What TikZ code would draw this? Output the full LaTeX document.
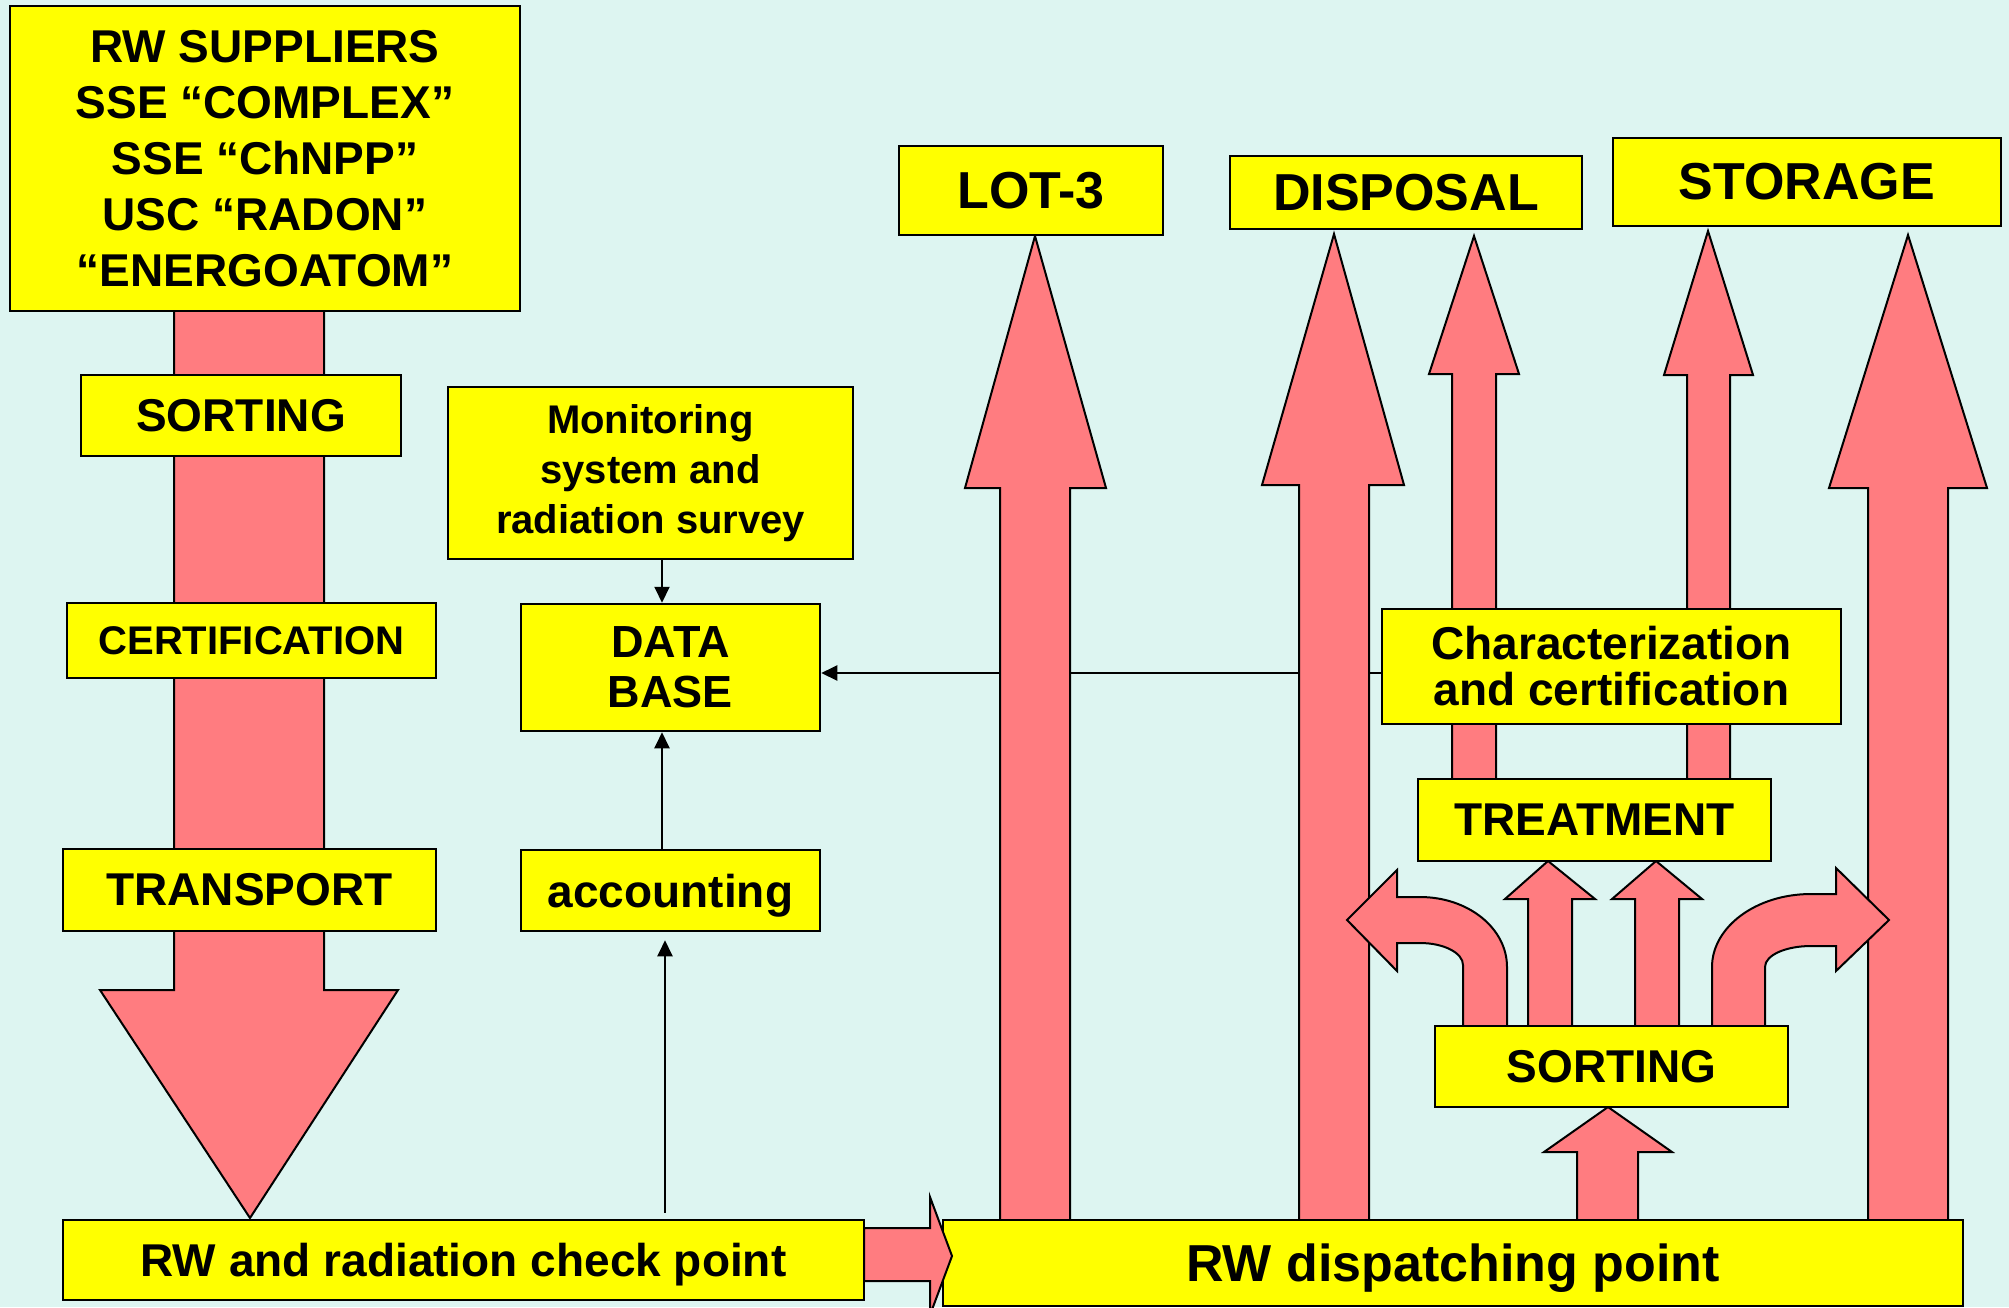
\documentclass[tikz,border=0pt]{standalone}
\usepackage{fontspec}
\setmainfont{Liberation Sans}
\usetikzlibrary{arrows.meta,backgrounds}
\definecolor{bgcyan}{RGB}{221,245,241}
\definecolor{rwpink}{RGB}{255,124,128}
\definecolor{rwyellow}{RGB}{255,255,0}
\tikzset{
  box/.style={draw, line width=2.5pt, fill=rwyellow, inner sep=0pt, align=center, font=\bfseries\fontsize{46}{56}\selectfont},
  bigtext/.style={font=\bfseries\fontsize{52}{60}\selectfont},
  smalltext/.style={font=\bfseries\fontsize{40}{50}\selectfont},
  flow/.style={draw=black, fill=rwpink, line width=2pt},
  link/.style={draw=black, line width=2pt, -{Triangle[length=16pt,width=15pt]}}
}
\begin{document}
\begin{tikzpicture}[x=1pt, y=-1pt]
    \useasboundingbox (0,0) rectangle (2009,1307);
    \node (SUP) [box, minimum width=510pt, minimum height=305pt] at (265,158.5) {RW SUPPLIERS\\SSE “COMPLEX”\\SSE “ChNPP”\\USC “RADON”\\“ENERGOATOM”};
    \node (SORT) [box, minimum width=320pt, minimum height=81pt] at (241,415.5) {SORTING};
    \node (CERT) [box, smalltext, minimum width=369pt, minimum height=75pt] at (251.5,640.5) {CERTIFICATION};
    \node (TRANS) [box, minimum width=373pt, minimum height=82pt] at (249.5,890) {TRANSPORT};
    \node (CHECK) [box, text depth=0pt, minimum width=801pt, minimum height=80pt] at (463.5,1260) {RW and radiation check point};
    \node (MON) [box, smalltext, minimum width=405pt, minimum height=172pt] at (650.5,473) {Monitoring\\system and\\radiation survey};
    \node (DB) [box, font=\bfseries\fontsize{45}{50}\selectfont, minimum width=299pt, minimum height=127pt] at (670.5,667.5) {DATA\\BASE};
    \node (ACC) [box, text depth=0pt, minimum width=299pt, minimum height=81pt] at (670.5,890.5) {accounting};
    \node (LOT) [box, bigtext, minimum width=264pt, minimum height=89pt] at (1031,190.5) {LOT-3};
    \node (DISP) [box, bigtext, minimum width=352pt, minimum height=73pt] at (1406,192.5) {DISPOSAL};
    \node (STOR) [box, bigtext, minimum width=388pt, minimum height=88pt] at (1807,182) {STORAGE};
    \node (CHAR) [box, font=\bfseries\fontsize{46}{46}\selectfont, minimum width=459pt, minimum height=115pt] at (1611.5,666.5) {Characterization\\and certification};
    \node (TREAT) [box, minimum width=353pt, minimum height=82pt] at (1594.5,820) {TREATMENT};
    \node (SORTR) [box, minimum width=353pt, minimum height=81pt] at (1611.5,1066.5) {SORTING};
    \node (RWDP) [box, bigtext, text depth=0pt, minimum width=1020pt, minimum height=86pt] at (1453,1263) {RW dispatching point};
    \coordinate (dbline) at (0,673);
    \coordinate (tapx) at (662,0);
    \coordinate (tapy) at (665,0);
    \begin{pgfonlayer}{background}
    \fill[bgcyan] (0,0) rectangle (2009,1307);
    \draw[link] (CHAR.west |- dbline) -- (DB.east |- dbline);
    \draw[flow] (174,300) -- (174,990) -- (100,990) -- (250,1218) -- (398,990) -- (324,990) -- (324,300) -- cycle;
    \draw[flow] (1000,1225) -- (1000,488) -- (965,488) -- (1035,236) -- (1106,488) -- (1070,488) -- (1070,1225) -- cycle;
    \draw[flow] (1299,1225) -- (1299,485) -- (1262,485) -- (1334,234) -- (1404,485) -- (1369,485) -- (1369,1225) -- cycle;
    \draw[flow] (1452,785) -- (1452,374) -- (1429,374) -- (1474,236) -- (1519,374) -- (1496,374) -- (1496,785) -- cycle;
    \draw[flow] (1687,785) -- (1687,375) -- (1664,375) -- (1708,231) -- (1753,375) -- (1730,375) -- (1730,785) -- cycle;
    \draw[flow] (1868,1225) -- (1868,488) -- (1829,488) -- (1908,235) -- (1987,488) -- (1948,488) -- (1948,1225) -- cycle;
    \draw[flow] (1577,1225) -- (1577,1152) -- (1544,1152) -- (1608,1107) -- (1672,1152) -- (1638,1152) -- (1638,1225) -- cycle;
    \draw[flow] (1528,1030) -- (1528,899) -- (1505,899) -- (1548,861) -- (1595,899) -- (1572,899) -- (1572,1030) -- cycle;
    \draw[flow] (1635,1030) -- (1635,899) -- (1612,899) -- (1656,861) -- (1702,899) -- (1679,899) -- (1679,1030) -- cycle;
    \draw[flow] (1507,1030) -- (1507,967) .. controls (1507,928) and (1468,897) .. (1420,897) -- (1397,897) -- (1397,870) -- (1347,920) -- (1397,971) -- (1397,943) -- (1420,943) .. controls (1444,943) and (1463,953) .. (1463,965) -- (1463,1030) -- cycle;
    \draw[flow] (1712,1030) -- (1712,967) .. controls (1712,927) and (1756,894) .. (1811,894) -- (1836,894) -- (1836,868) -- (1889,920) -- (1836,971) -- (1836,946) -- (1811,946) .. controls (1786,946) and (1765,955) .. (1765,967) -- (1765,1030) -- cycle;
    \end{pgfonlayer}
    \draw[flow] (864,1228) -- (930,1228) -- (930,1197) -- (952,1256) -- (930,1315) -- (930,1281) -- (864,1281) -- cycle;
    \draw[link] (MON.south -| tapx) -- (DB.north -| tapx);
    \draw[link] (ACC.north -| tapx) -- (DB.south -| tapx);
    \draw[link, shorten <=6pt, shorten >=8pt] (CHECK.north -| tapy) -- (ACC.south -| tapy);
\end{tikzpicture}
\end{document}
